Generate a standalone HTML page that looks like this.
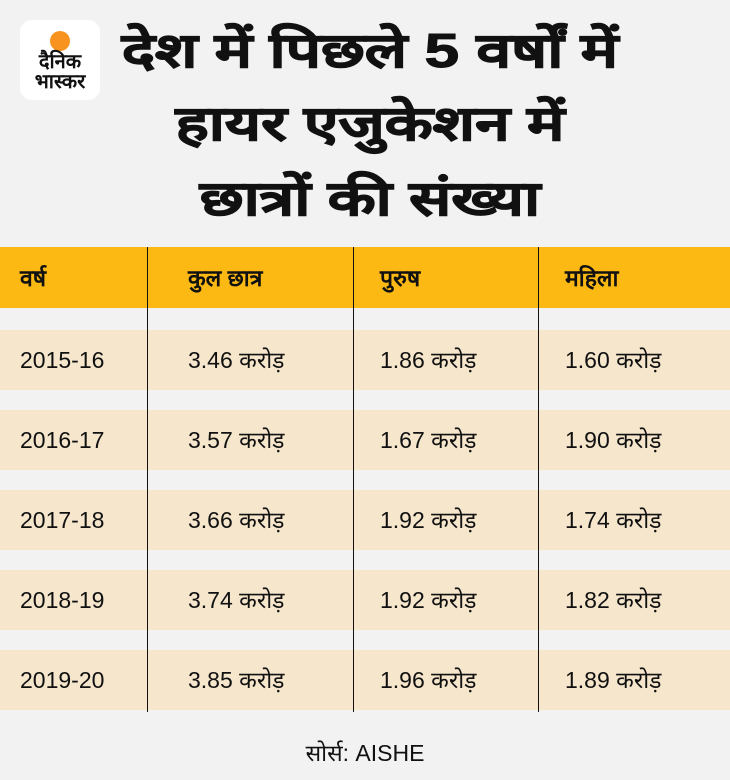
<!DOCTYPE html><html><head><meta charset="utf-8"><style>
body{margin:0;width:730px;height:780px;background:#f2f2f2;position:relative;overflow:hidden;font-family:"Liberation Sans","Noto Sans CJK SC",sans-serif}
.logo{position:absolute;left:20px;top:20px;width:80px;height:80px;background:#fff;border-radius:12px}
.dot{position:absolute;left:50px;top:31px;width:20px;height:20px;border-radius:50%;background:#f7931e}
.lt{position:absolute;left:20px;width:80px;text-align:center;font-weight:900;font-size:20px;line-height:20px;color:#111}
.tl{position:absolute;left:110px;width:520px;text-align:center;font-weight:900;font-size:48px;line-height:76px;color:#111;transform:scaleX(1.3);-webkit-text-stroke:1px #111}
.hdr{position:absolute;left:0;top:247px;width:730px;height:61px;background:#fdb913}
.row{position:absolute;left:0;width:730px;height:60px;background:#f5e6cc}
.vl{position:absolute;top:247px;height:465px;width:1px;background:#111}
.t{position:absolute;font-size:23px;color:#111;line-height:30px}
.h{font-weight:bold;font-size:23px}
</style></head><body>
<div class="logo"></div><div class="dot"></div>
<div class="lt" style="top:52px">दैनिक</div><div class="lt" style="top:72px">भास्कर</div>
<div class="tl" style="top:14px">देश में पिछले 5 वर्षों में</div>
<div class="tl" style="top:87px">हायर एजुकेशन में</div>
<div class="tl" style="top:162px">छात्रों की संख्या</div>
<div class="hdr"></div>
<div class="row" style="top:330px"></div><div class="row" style="top:410px"></div><div class="row" style="top:490px"></div><div class="row" style="top:570px"></div><div class="row" style="top:650px"></div>
<div class="vl" style="left:147px"></div><div class="vl" style="left:353px"></div><div class="vl" style="left:538px"></div>
<div class="t h" style="left:20px;top:263px">वर्ष</div>
<div class="t h" style="left:188px;top:263px">कुल छात्र</div>
<div class="t h" style="left:380px;top:263px">पुरुष</div>
<div class="t h" style="left:565px;top:263px">महिला</div>
<div class="t" style="left:20px;top:345px">2015-16</div><div class="t" style="left:188px;top:345px">3.46 करोड़</div><div class="t" style="left:380px;top:345px">1.86 करोड़</div><div class="t" style="left:565px;top:345px">1.60 करोड़</div>
<div class="t" style="left:20px;top:425px">2016-17</div><div class="t" style="left:188px;top:425px">3.57 करोड़</div><div class="t" style="left:380px;top:425px">1.67 करोड़</div><div class="t" style="left:565px;top:425px">1.90 करोड़</div>
<div class="t" style="left:20px;top:505px">2017-18</div><div class="t" style="left:188px;top:505px">3.66 करोड़</div><div class="t" style="left:380px;top:505px">1.92 करोड़</div><div class="t" style="left:565px;top:505px">1.74 करोड़</div>
<div class="t" style="left:20px;top:585px">2018-19</div><div class="t" style="left:188px;top:585px">3.74 करोड़</div><div class="t" style="left:380px;top:585px">1.92 करोड़</div><div class="t" style="left:565px;top:585px">1.82 करोड़</div>
<div class="t" style="left:20px;top:665px">2019-20</div><div class="t" style="left:188px;top:665px">3.85 करोड़</div><div class="t" style="left:380px;top:665px">1.96 करोड़</div><div class="t" style="left:565px;top:665px">1.89 करोड़</div>
<div class="t" style="left:0;width:730px;text-align:center;top:738px">सोर्स: AISHE</div>
</body></html>
